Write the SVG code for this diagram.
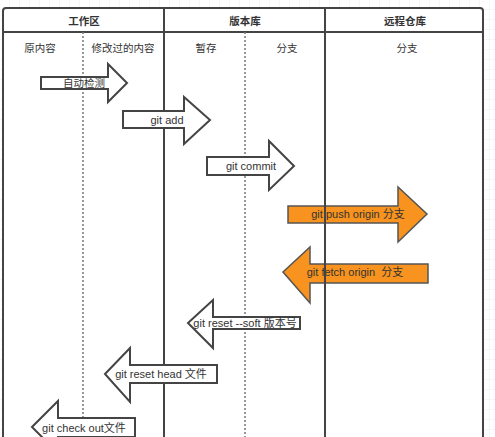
<svg xmlns="http://www.w3.org/2000/svg" width="495" height="437" viewBox="0 0 495 437">
<defs>
<pattern id="grid" width="10" height="10" patternUnits="userSpaceOnUse"><path d="M10 0V10H0" fill="none" stroke="#ececec" stroke-width="1"/></pattern>
<style>
.t{font-family:"Liberation Sans","Noto Sans CJK SC",sans-serif;font-size:11px;fill:#333;text-anchor:middle;dominant-baseline:central}
.h{font-weight:bold;font-size:10.5px}
.s{font-size:10.5px}
.ln{stroke:#444;stroke-width:2;fill:none}
.fr{stroke:#444;stroke-width:2;fill:#fff}
.dot{stroke:#777;stroke-width:1.5;stroke-dasharray:2 2;fill:none}
.aw{fill:#fff;stroke:#444;stroke-width:2;stroke-linejoin:miter}
.ao{fill:#F7931E;stroke:#555;stroke-width:1.5;stroke-linejoin:miter}
</style>
</defs>
<rect width="495" height="437" fill="#fff"/>
<rect width="495" height="437" fill="url(#grid)"/>
<g id="frame">
<rect x="3" y="8" width="480" height="445" rx="3" class="fr"/>
<line x1="3" y1="32" x2="483" y2="32" class="ln"/>
<line x1="164" y1="8" x2="164" y2="437" class="ln"/>
<line x1="83" y1="32" x2="83" y2="437" class="dot"/>
<line x1="245" y1="32" x2="245" y2="437" class="dot"/>
<text class="t h" x="84" y="21">工作区</text>
<text class="t h" x="245" y="21">版本库</text>
<text class="t h" x="405" y="21">远程仓库</text>
<text class="t s" x="40" y="48">原内容</text>
<text class="t s" x="123" y="48">修改过的内容</text>
<text class="t s" x="206" y="48">暂存</text>
<text class="t s" x="287" y="48">分支</text>
<text class="t s" x="407" y="48">分支</text>
</g>
<g id="connectors">
<g id="auto-detect">
<polygon class="aw" points="41,77 108,77 108,64 127,83 108,102 108,89 41,89"/>
<text class="t s" x="84" y="83">自动检测</text>
</g>
<g id="git-add">
<polygon class="aw" points="123,111 184,111 184,97 210,120 184,144 184,128 123,128"/>
<text class="t" x="167" y="120">git add</text>
</g>
<g id="git-commit">
<polygon class="aw" points="207,157 269,157 269,141 294,166 269,190 269,175 207,175"/>
<text class="t" x="251" y="166">git commit</text>
</g>
<g id="git-reset-soft">
<polygon class="aw" points="188,323 213,300 213,317 300,317 300,329 213,329 213,348"/>
<text class="t" x="245" y="323">git reset --soft 版本号</text>
</g>
<g id="git-reset-head">
<polygon class="aw" points="105,374 130,348 130,365 217,365 217,383 130,383 130,402"/>
<text class="t" x="161" y="374">git reset head 文件</text>
</g>
<g id="git-checkout">
<polygon class="aw" points="32,427 58,401 58,418 135,418 135,437 58,437 58,453"/>
<text class="t" x="84" y="428">git check out文件</text>
</g>
<g id="git-push">
<polygon class="ao" points="288,206 398,206 398,187 427,214 398,242 398,223 288,223"/>
<text class="t" x="358" y="214">git push origin 分支</text>
</g>
<g id="git-fetch">
<polygon class="ao" points="283,272 310,247 310,264 428,264 428,283 310,283 310,303"/>
<text class="t" x="355" y="272" xml:space="preserve">git fetch origin  分支</text>
</g>
</g>
<line x1="325" y1="8" x2="325" y2="437" class="ln"/>
</svg>
